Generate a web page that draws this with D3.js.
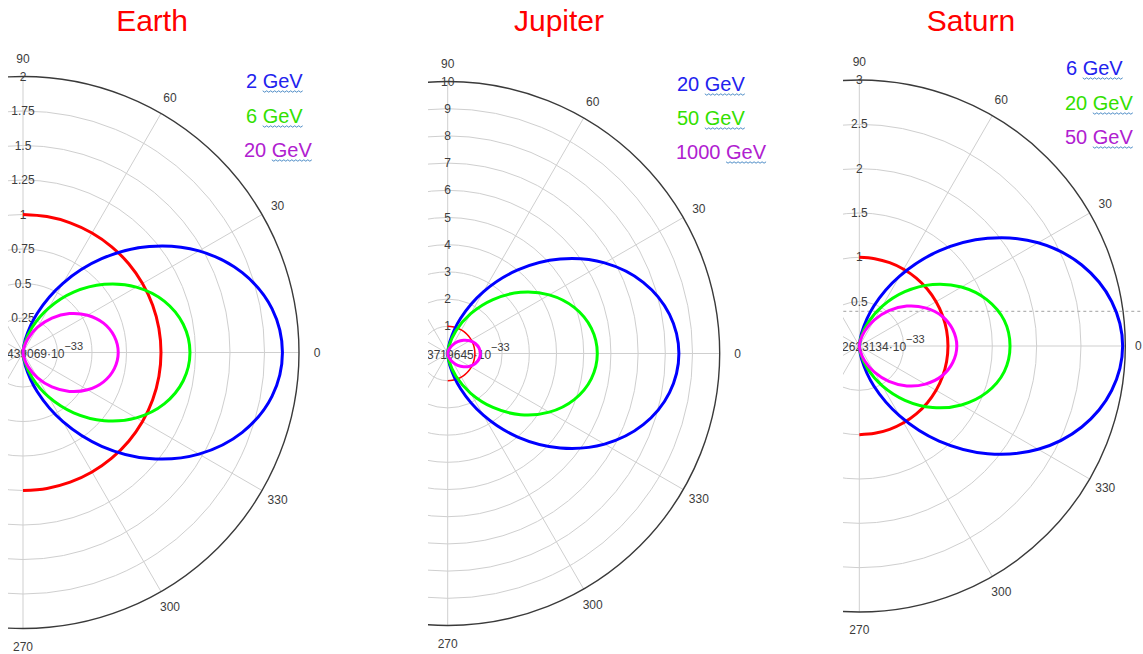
<!DOCTYPE html>
<html>
<head>
<meta charset="utf-8">
<script src="https://cdn.jsdelivr.net/npm/d3@7"></script>
<style>
  html, body { margin: 0; padding: 0; background: #fff; }
  svg { display: block; }
  text { font-family: "Liberation Sans", Arial, sans-serif; }
</style>
</head>
<body>
<svg id="chart" width="1143" height="654"></svg>
<script>
// Polar angle samples (degrees, counter-clockwise from the 0 direction)
const angles = [-90, -80, -70, -60, -50, -40, -30, -20, -10, 0, 10, 20, 30, 40, 50, 60, 70, 80, 90];

// Planet surface (radius 1) drawn as a red half circle
const surface = [1, 1, 1, 1, 1, 1, 1, 1, 1, 1, 1, 1, 1, 1, 1, 1, 1, 1, 1];

// Earth
const earthTicks = [0.25, 0.5, 0.75, 1, 1.25, 1.5, 1.75, 2];
const earthLegend = ["2 GeV", "6 GeV", "20 GeV"];
const earth2GeV  = [0, 0.096, 0.303, 0.579, 0.887, 1.195, 1.472, 1.691, 1.832, 1.880, 1.832, 1.691, 1.472, 1.195, 0.887, 0.579, 0.303, 0.096, 0];
const earth6GeV  = [0, 0.062, 0.195, 0.372, 0.571, 0.769, 0.948, 1.089, 1.179, 1.210, 1.179, 1.089, 0.948, 0.769, 0.571, 0.372, 0.195, 0.062, 0];
const earth20GeV = [0, 0.035, 0.111, 0.212, 0.326, 0.439, 0.540, 0.621, 0.672, 0.690, 0.672, 0.621, 0.540, 0.439, 0.326, 0.212, 0.111, 0.035, 0];

// Jupiter
const jupiterTicks = [1, 2, 3, 4, 5, 6, 7, 8, 9, 10];
const jupiterLegend = ["20 GeV", "50 GeV", "1000 GeV"];
const jupiter20GeV   = [0, 0.43, 1.37, 2.62, 4.01, 5.40, 6.66, 7.65, 8.28, 8.50, 8.28, 7.65, 6.66, 5.40, 4.01, 2.62, 1.37, 0.43, 0];
const jupiter50GeV   = [0, 0.28, 0.89, 1.69, 2.59, 3.50, 4.31, 4.95, 5.36, 5.50, 5.36, 4.95, 4.31, 3.50, 2.59, 1.69, 0.89, 0.28, 0];
const jupiter1000GeV = [0, 0.06, 0.19, 0.37, 0.57, 0.76, 0.94, 1.08, 1.17, 1.20, 1.17, 1.08, 0.94, 0.76, 0.57, 0.37, 0.19, 0.06, 0];

// Saturn
const saturnTicks = [0.5, 1, 1.5, 2, 2.5, 3];
const saturnLegend = ["6 GeV", "20 GeV", "50 GeV"];
const saturn6GeV  = [0, 0.15, 0.48, 0.91, 1.40, 1.89, 2.33, 2.67, 2.89, 2.97, 2.89, 2.67, 2.33, 1.89, 1.40, 0.91, 0.48, 0.15, 0];
const saturn20GeV = [0, 0.087, 0.27, 0.52, 0.80, 1.08, 1.33, 1.53, 1.66, 1.70, 1.66, 1.53, 1.33, 1.08, 0.80, 0.52, 0.27, 0.087, 0];
const saturn50GeV = [0, 0.056, 0.18, 0.34, 0.52, 0.70, 0.86, 0.99, 1.07, 1.10, 1.07, 0.99, 0.86, 0.70, 0.52, 0.34, 0.18, 0.056, 0];
const saturnMarker = 0.39;

// Angle labels around the rim
const angleLabels = [90, 60, 30, 0, 330, 300, 270];
const spokeAngles = [0, 30, 60, 90, 120, 150, 180, 210, 240, 270, 300, 330];

const curveColors = ["#0000ff", "#00ff00", "#ff00ff"];
const legendColors = ["#2222ee", "#33e000", "#b020d0"];

const W = 1143, H = 654;

const panels = [
  { id: "earth", title: "Earth", titleX: 152, cx: 23, cy: 352.5, R: 276, clipX: 8,
    ticks: earthTicks, origin: "439069\u00B710", series: [earth2GeV, earth6GeV, earth20GeV],
    legend: earthLegend, legendX: [246, 246, 244], legendY: [88, 123, 157], surfaceWidth: 3 },
  { id: "jupiter", title: "Jupiter", titleX: 559, cx: 447.7, cy: 353.5, R: 272, clipX: 428,
    ticks: jupiterTicks, origin: "3719645\u00B710", series: [jupiter20GeV, jupiter50GeV, jupiter1000GeV],
    legend: jupiterLegend, legendX: [677, 677, 676], legendY: [91, 125, 159], surfaceWidth: 1.5 },
  { id: "saturn", title: "Saturn", titleX: 971, cx: 859.3, cy: 346, R: 266, clipX: 843,
    ticks: saturnTicks, origin: "2623134\u00B710", series: [saturn6GeV, saturn20GeV, saturn50GeV],
    legend: saturnLegend, legendX: [1066, 1065, 1065], legendY: [75, 110, 144], surfaceWidth: 3,
    marker: saturnMarker }
];

const svg = d3.select("#chart");
svg.append("rect").attr("width", W).attr("height", H).attr("fill", "#fff");
const defs = svg.append("defs");
const toRad = d => d * Math.PI / 180;

panels.forEach(p => {
  const rMax = d3.max(p.ticks);
  const r = d3.scaleLinear().domain([0, rMax]).range([0, p.R]);

  defs.append("clipPath").attr("id", "clip-" + p.id)
    .append("rect").attr("x", p.clipX).attr("y", 0).attr("width", W - p.clipX).attr("height", H);

  const outer = svg.append("g").attr("clip-path", `url(#clip-${p.id})`);
  const g = outer.append("g").attr("transform", `translate(${p.cx},${p.cy})`);

  // concentric grid rings
  g.selectAll("circle.ring").data(p.ticks.filter(t => t < rMax)).join("circle")
    .attr("class", "ring").attr("r", d => r(d))
    .attr("fill", "none").attr("stroke", "#cfcfcf").attr("stroke-width", 1);

  // angular spokes
  g.selectAll("line.spoke").data(spokeAngles).join("line")
    .attr("class", "spoke")
    .attr("x1", 0).attr("y1", 0)
    .attr("x2", d => r(rMax) * Math.cos(toRad(d)))
    .attr("y2", d => -r(rMax) * Math.sin(toRad(d)))
    .attr("stroke", "#cfcfcf").attr("stroke-width", 1);

  // outer rim
  g.append("circle").attr("r", r(rMax))
    .attr("fill", "none").attr("stroke", "#3a3a3a").attr("stroke-width", 1.4);

  // horizontal marker line
  if (p.marker !== undefined) {
    g.append("line")
      .attr("x1", -40).attr("x2", 400)
      .attr("y1", -r(p.marker)).attr("y2", -r(p.marker))
      .attr("stroke", "#b4b4b4").attr("stroke-width", 1.2).attr("stroke-dasharray", "3,3");
  }

  // radial tick labels along the vertical axis
  g.selectAll("text.rtick").data(p.ticks).join("text")
    .attr("class", "rtick")
    .attr("x", 0).attr("y", d => -r(d))
    .attr("text-anchor", "middle").attr("dominant-baseline", "central")
    .attr("font-size", 12).attr("fill", "#3c3c3c")
    .text(d => String(d));

  // angle labels (kept inside the drawing area)
  g.selectAll("text.alabel").data(angleLabels).join("text")
    .attr("class", "alabel")
    .attr("x", d => (r(rMax) + 18) * Math.cos(toRad(d)))
    .attr("y", d => -(r(rMax) + 18) * Math.sin(toRad(d)))
    .attr("text-anchor", "middle").attr("dominant-baseline", "central")
    .attr("font-size", 12).attr("fill", "#3c3c3c")
    .text(d => d)
    .each(function () {
      const bb = this.getBBox();
      const over = p.cx + bb.x + bb.width - (W - 1);
      if (over > 0) d3.select(this).attr("x", +d3.select(this).attr("x") - over);
    });

  // value at the pole
  const ot = g.append("text")
    .attr("x", p.clipX - p.cx - 1).attr("y", 5)
    .attr("font-size", 12).attr("fill", "#3c3c3c");
  ot.append("tspan").text(p.origin);
  ot.append("tspan").attr("dy", -8).attr("font-size", 11).text("\u221233");

  // curves
  const line = d3.lineRadial()
    .angle(d => toRad(90 - d.a))
    .radius(d => r(d.v))
    .curve(d3.curveCatmullRom.alpha(0.5));

  const toPts = vals => vals.map((v, i) => ({ a: angles[i], v }));

  g.append("path").datum(toPts(surface))
    .attr("d", line).attr("fill", "none")
    .attr("stroke", "#ff0000").attr("stroke-width", p.surfaceWidth);

  p.series.forEach((s, i) => {
    g.append("path").datum(toPts(s))
      .attr("d", line).attr("fill", "none")
      .attr("stroke", curveColors[i]).attr("stroke-width", 3);
  });

  // title
  svg.append("text")
    .attr("x", p.titleX).attr("y", 31)
    .attr("text-anchor", "middle")
    .attr("font-size", 30).attr("fill", "#ff0000")
    .text(p.title);

  // legend with wavy underline under the unit
  p.legend.forEach((label, i) => {
    const parts = label.split(" ");
    const t = svg.append("text")
      .attr("x", p.legendX[i]).attr("y", p.legendY[i])
      .attr("font-size", 20).attr("fill", legendColors[i]);
    const a = t.append("tspan").text(parts[0] + " ");
    const b = t.append("tspan").text(parts[1]);
    const x0 = p.legendX[i] + a.node().getComputedTextLength();
    const w = b.node().getComputedTextLength();
    const y0 = p.legendY[i] + 3;
    const pts = [];
    for (let k = 0; k * 2 <= w; k++) pts.push([x0 + k * 2, y0 + (k % 2 ? 1.2 : -0.2)]);
    svg.append("path")
      .attr("d", d3.line()(pts))
      .attr("fill", "none").attr("stroke", "#3a7fc0").attr("stroke-width", 0.9);
  });
});
</script>
</body>
</html>
